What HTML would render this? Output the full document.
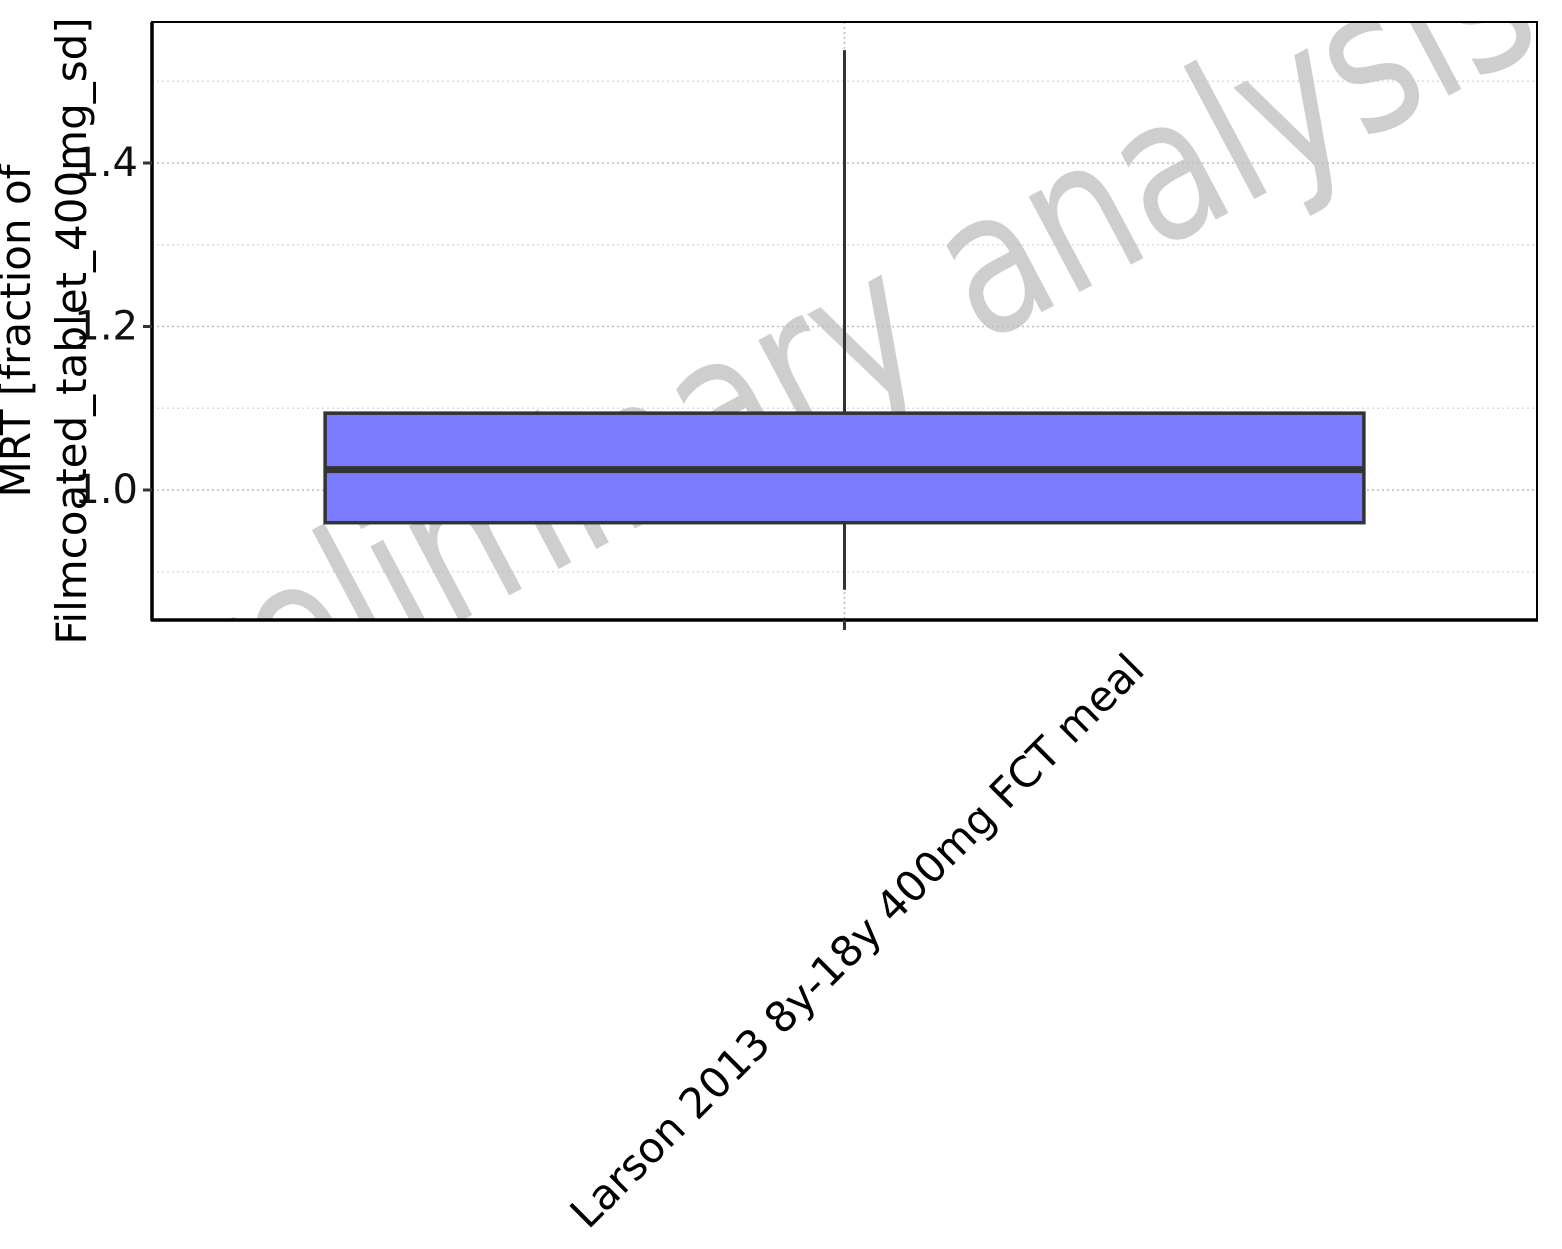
<!DOCTYPE html>
<html><head><meta charset="utf-8"><style>
html,body{margin:0;padding:0;background:#fff;}
svg{display:block;font-family:"DejaVu Sans","Liberation Sans",sans-serif;}
</style></head><body>
<svg id="chart" width="1562" height="1249" viewBox="0 0 1562 1249" xmlns="http://www.w3.org/2000/svg">
<defs><clipPath id="pc"><rect x="152" y="22" width="1385" height="598"/></clipPath></defs>
<g id="grid"></g>
<g clip-path="url(#pc)">
<text x="0" y="0" text-anchor="middle" dominant-baseline="central" font-size="198" fill="#bdbdbd" fill-opacity="0.75" transform="translate(812,358) rotate(-28) scale(0.8,1)">preliminary analysis</text>
</g>
<g id="marks"></g>
<rect x="152" y="22" width="1385" height="598" fill="none" stroke="#000" stroke-width="2"/>
<line x1="151" y1="620" x2="1538" y2="620" stroke="#000" stroke-width="3.5"/>
<line x1="152" y1="22" x2="152" y2="621" stroke="#000" stroke-width="3.5"/>
<g id="yticks"></g>
<g id="xticks"></g>
<text font-size="42" fill="#000" text-anchor="middle" transform="translate(0,331) rotate(-90)"><tspan x="0" y="30">MRT [fraction of</tspan><tspan x="0" y="86">Filmcoated_tablet_400mg_sd]</tspan></text>
</svg>
<script>
const categories = ["Larson 2013 8y-18y 400mg FCT meal"];
const whiskerLow = [0.878];
const q1 = [0.960];
const median = [1.025];
const q3 = [1.094];
const whiskerHigh = [1.538];
const yTicks = [1.0, 1.2, 1.4];
const yTickLabels = ["1.0", "1.2", "1.4"];
const yMinor = [0.9, 1.1, 1.3, 1.5];

const NS = "http://www.w3.org/2000/svg";
const X0 = 152, X1 = 1537, Y0 = 22, Y1 = 620;
function y(v){ return 490 - (v - 1.0) * 817.5; }
function xc(i){ return X0 + (X1 - X0) * (i + 0.5) / categories.length; }
const bw = (X1 - X0) / categories.length * 0.75;
function mk(tag, attrs, parent){ const e = document.createElementNS(NS, tag); for (const k in attrs) e.setAttribute(k, attrs[k]); parent.appendChild(e); return e; }

const grid = document.getElementById('grid');
yTicks.concat(yMinor).forEach(v => {
  const l = mk('line', {x1:X0, x2:X1, y1:y(v), y2:y(v), stroke: yTicks.includes(v) ? '#bbb' : '#ddd', 'stroke-width':1.5, 'stroke-dasharray':'2 3'}, grid);
  
  
});
categories.forEach((c, i) => {
  const l = mk('line', {x1:xc(i), x2:xc(i), y1:Y0, y2:Y1, stroke:'#bbb', 'stroke-width':1.5, 'stroke-dasharray':'2 3'}, grid);
  
  
});

const marks = document.getElementById('marks');
categories.forEach((c, i) => {
  const cx = xc(i);
  const w = mk('line', {x1:cx, x2:cx, y1:y(whiskerHigh[i]), y2:y(whiskerLow[i]), stroke:'#333', 'stroke-width':3}, marks);
  
  
  const b = mk('rect', {x:cx - bw/2, y:y(q3[i]), width:bw, height:y(q1[i]) - y(q3[i]), fill:'#7b7bff', stroke:'#333', 'stroke-width':3.5}, marks);
  
  
  const m = mk('line', {x1:cx - bw/2, x2:cx + bw/2, y1:y(median[i]), y2:y(median[i]), stroke:'#333', 'stroke-width':7}, marks);
  
  
});

const yt = document.getElementById('yticks');
yTicks.forEach((v, i) => {
  const t = mk('line', {x1:143, x2:152, y1:y(v), y2:y(v), stroke:'#333', 'stroke-width':3}, yt);
  
  
  const tx = mk('text', {x:138, y:y(v), 'text-anchor':'end', 'dominant-baseline':'central', 'font-size':40, fill:'#111'}, yt);
  tx.textContent = yTickLabels[i];
  
  
});
const xt = document.getElementById('xticks');
categories.forEach((c, i) => {
  const cx = xc(i);
  const t = mk('line', {x1:cx, x2:cx, y1:620, y2:630, stroke:'#333', 'stroke-width':3}, xt);
  
  
  const tx = mk('text', {x:0, y:0, 'text-anchor':'end', 'font-size':42, fill:'#000', transform:'translate(' + (cx + 302) + ',672) rotate(-45)'}, xt);
  tx.textContent = c;
  
  
});
</script>
</body></html>
